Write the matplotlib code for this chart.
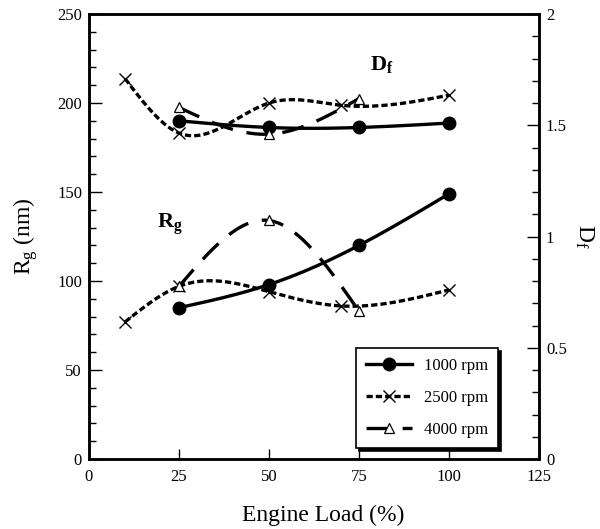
import numpy as np
import matplotlib
matplotlib.use('Agg')
import matplotlib.pyplot as plt
from matplotlib.lines import Line2D
from matplotlib.ticker import MultipleLocator, FuncFormatter

plt.rcParams['font.family'] = 'Liberation Serif'
plt.rcParams['mathtext.fontset'] = 'custom'
plt.rcParams['mathtext.rm'] = 'Liberation Serif'
plt.rcParams['mathtext.it'] = 'Liberation Serif:italic'
plt.rcParams['mathtext.bf'] = 'Liberation Serif:bold'
plt.rcParams['lines.scale_dashes'] = False

# engine load (%) for each speed
load_1000 = [25, 50, 75, 100]
load_2500 = [10, 25, 50, 70, 100]
load_4000 = [25, 50, 75]

# radius of gyration Rg (nm), left axis
rg_1000 = [85, 98, 120, 149]
rg_2500 = [77, 97, 94, 86, 95]
rg_4000 = [97, 134, 83]

# fractal dimension Df, right axis
df_1000 = [1.52, 1.49, 1.49, 1.51]
df_2500 = [1.71, 1.465, 1.60, 1.59, 1.635]
df_4000 = [1.58, 1.46, 1.62]

labels = ['1000 rpm', '2500 rpm', '4000 rpm']


def spline(x, y, n=200):
    # natural cubic spline, the old plotting package smoothed the curves like this
    x = np.asarray(x, float)
    y = np.asarray(y, float)
    k = len(x)
    h = np.diff(x)
    A = np.zeros((k, k))
    b = np.zeros(k)
    A[0, 0] = 1
    A[-1, -1] = 1
    for i in range(1, k - 1):
        A[i, i - 1] = h[i - 1]
        A[i, i] = 2 * (h[i - 1] + h[i])
        A[i, i + 1] = h[i]
        b[i] = 6 * ((y[i + 1] - y[i]) / h[i] - (y[i] - y[i - 1]) / h[i - 1])
    m = np.linalg.solve(A, b)
    xs = np.linspace(x[0], x[-1], n)
    ys = np.empty_like(xs)
    for j, t in enumerate(xs):
        i = min(np.searchsorted(x, t, side='right') - 1, k - 2)
        dx = t - x[i]
        a = (m[i + 1] - m[i]) / (6 * h[i])
        c = (y[i + 1] - y[i]) / h[i] - h[i] * (2 * m[i] + m[i + 1]) / 6
        ys[j] = y[i] + c * dx + m[i] / 2 * dx ** 2 + a * dx ** 3
    return xs, ys


styles = [
    dict(color='k', lw=2.4, ls='-'),
    dict(color='k', lw=2.4, dashes=(4.5, 2.2)),
    dict(color='k', lw=2.4, dashes=(16, 10)),
]
marks = [
    dict(marker='o', ms=9, mfc='k', mec='k'),
    dict(marker='x', ms=9, mfc='none', mec='k', mew=1.0),
    dict(marker='^', ms=7, mfc='white', mec='k', mew=0.9),
]

fig = plt.figure(figsize=(6, 5.29), dpi=100)
ax = fig.add_axes([0.1483, 0.1323, 0.75, 0.8412])
ax2 = ax.twinx()

rg_sets = [(load_1000, rg_1000), (load_2500, rg_2500), (load_4000, rg_4000)]
df_sets = [(load_1000, df_1000), (load_2500, df_2500), (load_4000, df_4000)]

for (x, y), st, mk in zip(rg_sets, styles, marks):
    xs, ys = spline(x, y)
    ax.plot(xs, ys, **st, zorder=3)
    ax.plot(x, y, ls='none', **mk, zorder=4)

for (x, y), st, mk in zip(df_sets, styles, marks):
    xs, ys = spline(x, y)
    ax2.plot(xs, ys, **st, zorder=3)
    ax2.plot(x, y, ls='none', **mk, zorder=4)

ax.set_xlim(0, 125)
ax.set_ylim(0, 250)
ax2.set_ylim(0, 2)

ax.set_xticks(range(0, 126, 25))
ax.set_yticks(range(0, 251, 50))
ax.yaxis.set_minor_locator(MultipleLocator(10))
ax2.set_yticks([0, 0.5, 1, 1.5, 2])
ax2.yaxis.set_minor_locator(MultipleLocator(0.1))
ax2.yaxis.set_major_formatter(FuncFormatter(lambda v, p: '%g' % v))

ax.tick_params(axis='x', direction='in', length=7, width=1, pad=7, labelsize=12, top=False)
ax.tick_params(axis='y', which='major', direction='in', length=9, width=1, pad=5, labelsize=12, right=False)
ax.tick_params(axis='y', which='minor', direction='in', length=5, width=1, right=False)
ax2.tick_params(axis='y', which='major', direction='in', length=9, width=1, pad=5, labelsize=12)
ax2.tick_params(axis='y', which='minor', direction='in', length=5, width=1)

for a in (ax, ax2):
    for s in a.spines.values():
        s.set_linewidth(1.8)

ax.set_xlabel('Engine Load (%)', fontsize=17)
ax.xaxis.set_label_coords(0.52, -0.103)
ax.set_ylabel(r'$\mathregular{R_g}$ (nm)', fontsize=17)
ax.yaxis.set_label_coords(-0.108, 0.5)
ax2.set_ylabel(r'$\mathregular{D_f}$', fontsize=17, rotation=270)
ax2.yaxis.set_label_coords(1.125, 0.5)

ax.text(0.152, 0.52, r'$\mathbf{R_g}$', transform=ax.transAxes, fontsize=16)
ax.text(0.625, 0.875, r'$\mathbf{D_f}$', transform=ax.transAxes, fontsize=16)

handles = [Line2D([], [], **st, **mk) for st, mk in zip(styles, marks)]
leg = ax.legend(handles, labels, loc='lower left', bbox_to_anchor=(0.593, 0.025),
                borderaxespad=0, fontsize=12, handlelength=2.8, handletextpad=0.7,
                labelspacing=0.95, borderpad=0.6, fancybox=False, framealpha=1,
                edgecolor='k', shadow={'color': 'k', 'alpha': 1})
leg.get_frame().set_linewidth(1.2)
leg.set_zorder(10)
ax.set_zorder(ax2.get_zorder() + 1)
ax.patch.set_visible(False)

fig.savefig('out.png', dpi=100)
